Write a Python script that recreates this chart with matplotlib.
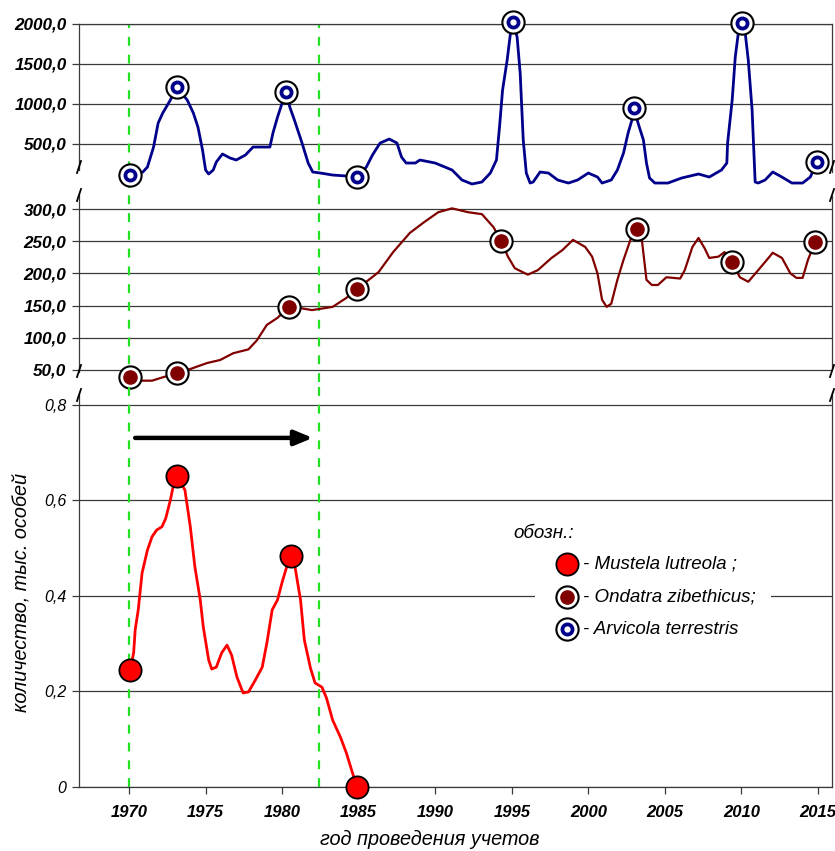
import matplotlib
matplotlib.use("Agg")
import matplotlib.pyplot as plt
from matplotlib.lines import Line2D
from matplotlib.patches import Rectangle

plt.rcParams['font.family'] = ['Liberation Sans', 'DejaVu Sans']

# Arvicola terrestris (top panel)
arv_year = [1970.07, 1970.9, 1971.2, 1971.6, 1971.9, 1972.2, 1972.7, 1973.1, 1973.8,
            1974.2, 1974.5, 1974.8, 1975.0, 1975.2, 1975.5, 1975.7, 1976.1, 1976.6,
            1977.0, 1977.6, 1978.1, 1979.2, 1979.4, 1979.7, 1980.0, 1980.25, 1980.5,
            1980.8, 1981.3, 1981.7, 1982.0, 1982.5, 1983.3, 1984.2, 1984.9, 1985.5,
            1985.9, 1986.4, 1987.0, 1987.5, 1987.8, 1988.1, 1988.7, 1989.0, 1990.0,
            1991.1, 1991.75, 1992.4, 1993.05, 1993.6, 1994.0, 1994.2, 1994.4, 1994.7,
            1994.9, 1995.1, 1995.35, 1995.55, 1995.75, 1995.95, 1996.2, 1996.4, 1996.85,
            1997.4, 1998.0, 1998.7, 1999.3, 2000.0, 2000.6, 2000.9, 2001.5, 2001.9,
            2002.3, 2002.6, 2002.85, 2003.0, 2003.25, 2003.6, 2003.8, 2004.0, 2004.35,
            2005.2, 2006.1, 2007.2, 2007.9, 2008.7, 2009.05, 2009.1, 2009.4, 2009.6,
            2009.8, 2010.05, 2010.25, 2010.45, 2010.7, 2010.9, 2011.1, 2011.55, 2012.05,
            2012.65, 2013.3, 2014.0, 2014.5, 2014.95]
arv_val = [112, 150, 212, 462, 762, 887, 1050, 1212, 1050,
           887, 712, 425, 175, 125, 175, 275, 375, 325,
           300, 362, 462, 462, 637, 837, 1012, 1150, 962,
           800, 512, 262, 150, 137, 112, 100, 87, 212,
           362, 512, 562, 512, 337, 262, 262, 300, 262,
           175, 50, 0, 25, 137, 300, 712, 1175, 1550,
           1862, 2020, 1837, 1387, 550, 137, 12, 25, 150,
           137, 50, 12, 50, 137, 87, 12, 50, 175,
           387, 637, 800, 950, 762, 550, 262, 75, 12,
           12, 75, 125, 87, 175, 262, 512, 1050, 1587,
           1887, 2012, 1887, 1550, 925, 25, 12, 50, 150,
           87, 12, 12, 87, 275]
arv_mk_year = [1970.07, 1973.1, 1980.25, 1984.9, 1995.1, 2003.0, 2010.05, 2014.95]
arv_mk_val = [112, 1212, 1150, 87, 2020, 950, 2012, 275]

# Ondatra zibethicus (middle panel)
ond_year = [1970.07, 1970.7, 1971.5, 1972.2, 1973.1, 1974.0, 1975.1, 1975.95, 1976.8,
            1977.8, 1978.35, 1979.0, 1979.7, 1980.45, 1981.2, 1981.95, 1982.5, 1983.3,
            1984.2, 1984.9, 1985.5, 1986.3, 1987.25, 1988.35, 1989.3, 1990.2, 1991.1,
            1992.15, 1993.05, 1993.8, 1994.3, 1994.75, 1995.2, 1996.05, 1996.7, 1997.6,
            1998.3, 1999.0, 1999.8, 2000.25, 2000.6, 2000.9, 2001.2, 2001.5, 2001.9,
            2002.3, 2002.75, 2003.2, 2003.5, 2003.8, 2004.15, 2004.55, 2005.1, 2006.0,
            2006.3, 2006.8, 2007.2, 2007.6, 2007.9, 2008.5, 2008.9, 2009.4, 2009.9,
            2010.45, 2011.1, 2012.05, 2012.65, 2013.2, 2013.6, 2014.0, 2014.35, 2014.8]
ond_val = [38.6, 33.4, 33.4, 38.6, 44.8, 51.5, 60.8, 65.5, 76,
           82, 96, 120, 131, 148, 146, 143, 145, 148,
           162, 176, 187, 202, 233, 263, 280, 295, 301,
           295, 292, 272, 251, 226, 208, 198, 205, 224,
           236, 252, 241, 226, 200, 159, 148, 153, 190,
           221, 252, 269, 252, 190, 182, 182, 194, 192,
           205, 241, 255, 239, 224, 226, 233, 217, 194,
           187, 205, 232, 224, 200, 193, 193, 221, 248]
ond_mk_year = [1970.07, 1973.1, 1980.45, 1984.9, 1994.3, 2003.2, 2009.4, 2014.8]
ond_mk_val = [38.6, 44.8, 148, 176, 251, 269, 217, 248]

# Mustela lutreola (bottom panel)
mus_year = [1970.07, 1970.3, 1970.4, 1970.6, 1970.85, 1971.2, 1971.5, 1971.8, 1972.15,
            1972.4, 1972.7, 1972.9, 1973.1, 1973.65, 1974.0, 1974.3, 1974.65, 1974.85,
            1975.2, 1975.4, 1975.7, 1976.05, 1976.4, 1976.7, 1977.05, 1977.45, 1977.8,
            1978.25, 1978.7, 1979.0, 1979.35, 1979.7, 1980.0, 1980.3, 1980.6, 1980.85,
            1981.2, 1981.45, 1981.85, 1982.15, 1982.6, 1982.9, 1983.3, 1983.8, 1984.2,
            1984.6, 1984.9]
mus_val = [0.245, 0.281, 0.329, 0.371, 0.448, 0.496, 0.524, 0.538, 0.545,
           0.563, 0.601, 0.632, 0.651, 0.622, 0.545, 0.461, 0.392, 0.335,
           0.266, 0.247, 0.251, 0.281, 0.297, 0.276, 0.230, 0.197, 0.199,
           0.224, 0.251, 0.301, 0.371, 0.392, 0.429, 0.461, 0.484, 0.459,
           0.392, 0.308, 0.249, 0.218, 0.209, 0.186, 0.140, 0.105, 0.071,
           0.029, 0.0]
mus_mk_year = [1970.07, 1973.1, 1980.6, 1984.9]
mus_mk_val = [0.245, 0.651, 0.484, 0.0]

period_lines = [1970.0, 1982.4]
arrow_from, arrow_to, arrow_level = 1970.4, 1982.0, 0.731

top_ticks = [500, 1000, 1500, 2000]
mid_ticks = [50, 100, 150, 200, 250, 300]
bot_ticks = [0, 0.2, 0.4, 0.6, 0.8]
x_ticks = [1970, 1975, 1980, 1985, 1990, 1995, 2000, 2005, 2010, 2015]

legend_names = ['- Mustela lutreola ;', '- Ondatra zibethicus;', '- Arvicola terrestris']

W, H = 835, 851
fig = plt.figure(figsize=(W / 100, H / 100), dpi=100)

X0, X1 = 79, 832


def fy(py):
    return 1 - py / H


def add_panel(top_px, bot_px):
    return fig.add_axes([X0 / W, fy(bot_px), (X1 - X0) / W, (bot_px - top_px) / H])


ax1 = add_panel(24, 188)
ax2 = add_panel(188, 382)
ax3 = add_panel(382, 787)

# y = value mapping for each panel (pixel based)
def v1(py): return 2000 - (py - 24) * 12.5
def v2(py): return 300 - (py - 209) * 1.553
def v3(py): return (787 - py) * 0.002094

ax1.set_ylim(v1(188), v1(24))
ax2.set_ylim(v2(382), v2(188))
ax3.set_ylim(v3(787), v3(382))

GRID = '#3a3a3a'
for ax in (ax1, ax2, ax3):
    ax.set_xlim(1966.73, 2015.92)
    ax.set_facecolor('none')
    ax.grid(axis='y', color=GRID, lw=0.9)
    ax.set_axisbelow(True)
    for s in ax.spines.values():
        s.set_color(GRID)
        s.set_linewidth(0.9)
    ax.spines['top'].set_visible(False)
    ax.spines['bottom'].set_visible(False)
    ax.tick_params(axis='y', direction='out', length=5, width=0.9, color=GRID, pad=4)
    for yr in period_lines:
        ax.axvline(yr, color='#22e022', lw=1.6, dashes=(4, 4))

for ax in (ax1, ax2):
    ax.set_xticks([])

ax1.spines['top'].set_visible(True)
ax3.spines['bottom'].set_visible(True)

ax1.spines['left'].set_bounds(v1(170), v1(24))
ax1.spines['right'].set_bounds(v1(172), v1(24))
ax2.spines['left'].set_bounds(v2(372), v2(194))
ax2.spines['right'].set_bounds(v2(368), v2(196))
ax3.spines['left'].set_bounds(0, v3(394))
ax3.spines['right'].set_bounds(0, v3(392))

ax1.set_yticks(top_ticks, labels=[f"{t:.1f}".replace('.', ',') for t in top_ticks],
               fontsize=12.3, fontstyle='italic', fontweight='bold')
ax2.set_yticks(mid_ticks, labels=[f"{t:.1f}".replace('.', ',') for t in mid_ticks],
               fontsize=12.3, fontstyle='italic', fontweight='bold')
ax3.set_yticks(bot_ticks, labels=['0' if t == 0 else f"{t:.1f}".replace('.', ',') for t in bot_ticks],
               fontsize=11.5, fontstyle='italic')
ax3.set_xticks(x_ticks, labels=[str(t) for t in x_ticks],
               fontsize=12, fontstyle='italic', fontweight='bold')
ax3.tick_params(axis='x', direction='out', length=5, width=0.9, color=GRID, pad=8)

# curves
ax1.plot(arv_year, arv_val, color='#00008b', lw=2.0, clip_on=False, zorder=3)
ax1.plot(arv_mk_year, arv_mk_val, 'o', ms=16, mfc='white', mec='black', mew=1.5,
         clip_on=False, zorder=4)
ax1.plot(arv_mk_year, arv_mk_val, 'o', ms=9, mfc='#00008b', mec='#00008b',
         clip_on=False, zorder=5)
ax1.plot(arv_mk_year, arv_mk_val, 'o', ms=3.5, mfc='white', mec='white',
         clip_on=False, zorder=6)

ax2.plot(ond_year, ond_val, color='#800000', lw=1.6, clip_on=False, zorder=3)
ax2.plot(ond_mk_year, ond_mk_val, 'o', ms=16, mfc='white', mec='black', mew=1.5,
         clip_on=False, zorder=4)
ax2.plot(ond_mk_year, ond_mk_val, 'o', ms=9.5, mfc='#800000', mec='#800000',
         clip_on=False, zorder=5)

ax3.plot(mus_year, mus_val, color='#ff0000', lw=2.0, clip_on=False, zorder=3)
ax3.plot(mus_mk_year, mus_mk_val, 'o', ms=16, mfc='#ff0000', mec='black', mew=1.3,
         clip_on=False, zorder=5)

ax3.annotate('', xy=(arrow_to, arrow_level), xytext=(arrow_from, arrow_level),
             arrowprops=dict(arrowstyle='-|>,head_length=0.6,head_width=0.25',
                             lw=3.2, color='black', mutation_scale=18,
                             shrinkA=0, shrinkB=0))

# legend (white box covering the grid line)
fig.patches.append(Rectangle((535 / W, fy(650)), (771 - 535) / W, (650 - 515) / H,
                             transform=fig.transFigure, facecolor='white',
                             edgecolor='none', zorder=2))
fig.text(513 / W, fy(533), 'обозн.:', fontsize=13.5, fontstyle='italic',
         va='center', ha='left', zorder=3)
leg_y = [564, 597, 629]
for i, (py, name) in enumerate(zip(leg_y, legend_names)):
    x, y = 567 / W, fy(py)
    if i == 0:
        fig.add_artist(Line2D([x], [y], marker='o', ms=16, mfc='#ff0000', mec='black',
                              mew=1.3, transform=fig.transFigure, zorder=4))
    elif i == 1:
        fig.add_artist(Line2D([x], [y], marker='o', ms=16, mfc='white', mec='black',
                              mew=1.5, transform=fig.transFigure, zorder=4))
        fig.add_artist(Line2D([x], [y], marker='o', ms=9.5, mfc='#800000', mec='#800000',
                              transform=fig.transFigure, zorder=5))
    else:
        fig.add_artist(Line2D([x], [y], marker='o', ms=16, mfc='white', mec='black',
                              mew=1.5, transform=fig.transFigure, zorder=4))
        fig.add_artist(Line2D([x], [y], marker='o', ms=9, mfc='#00008b', mec='#00008b',
                              transform=fig.transFigure, zorder=5))
        fig.add_artist(Line2D([x], [y], marker='o', ms=3.5, mfc='white', mec='white',
                              transform=fig.transFigure, zorder=6))
    fig.text(583 / W, y, name, fontsize=13.5, fontstyle='italic', va='center',
             ha='left', zorder=4)

# axis break marks
for px in (X0, X1):
    for py in (167, 195, 371, 395):
        fig.add_artist(Line2D([(px - 2) / W, (px + 2) / W], [fy(py + 6), fy(py - 6)],
                              color='black', lw=1.3, transform=fig.transFigure))

fig.text(22 / W, fy(592), 'количество, тыс. особей', rotation=90, fontsize=14.3,
         fontstyle='italic', va='center', ha='center')
fig.text(430 / W, fy(839), 'год проведения учетов', fontsize=14.3,
         fontstyle='italic', va='center', ha='center')

fig.savefig('out.png', dpi=100)
